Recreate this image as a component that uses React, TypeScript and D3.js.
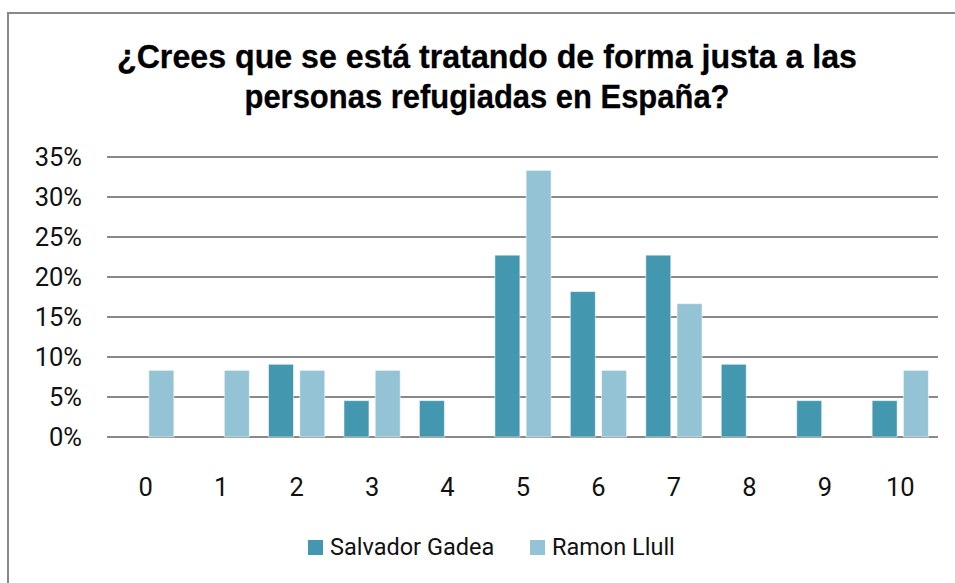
import React from "react";
import * as d3 from "d3";

const categories = ["0", "1", "2", "3", "4", "5", "6", "7", "8", "9", "10"];
const seriesNames = ["Salvador Gadea", "Ramon Llull"];
const salvadorGadea = [0, 0, 0.0909, 0.0455, 0.0455, 0.2273, 0.1818, 0.2273, 0.0909, 0.0455, 0.0455];
const ramonLlull = [0.0833, 0.0833, 0.0833, 0.0833, 0, 0.3333, 0.0833, 0.1667, 0, 0, 0.0833];
const yTicks = [0, 0.05, 0.1, 0.15, 0.2, 0.25, 0.3, 0.35];
const titleLines = ["¿Crees que se está tratando de forma justa a las", "personas refugiadas en España?"];
const titleWidths = [740, 485];
const colors = ["#4398B0", "#93C3D5"];

const W = 955;
const H = 583;

export default function App() {
  const x = d3.scaleBand<string>().domain(categories).range([108, 938]).paddingInner(0).paddingOuter(0);
  const xs = d3
    .scaleBand<string>()
    .domain(seriesNames)
    .range([0, x.bandwidth()])
    .paddingInner(0.2)
    .paddingOuter(0.307);
  const y = d3.scaleLinear().domain([0, 0.35]).range([437, 157]);
  const fmt = d3.format(".0%");
  const data = [salvadorGadea, ramonLlull];
  const tickFont = "Roboto, 'Liberation Sans', Arial, sans-serif";

  return (
    <svg
      width={W}
      height={H}
      style={{ position: "absolute", left: 0, top: 0, background: "#fff" }}
    >
      <rect x={0} y={0} width={W} height={H} fill="#fff" />
      <path d={`M8,${H + 5} L8,13 L${W + 5},13`} fill="none" stroke="#888" strokeWidth={2} />

      {titleLines.map((t, i) => (
        <text
          key={i}
          x={487}
          y={68 + i * 40}
          textAnchor="middle"
          textLength={titleWidths[i]}
          lengthAdjust="spacingAndGlyphs"
          fontFamily="'Liberation Sans', Arial, sans-serif"
          fontWeight="bold"
          fontSize={33}
          fill="#000"
          stroke="#000"
          strokeWidth={0.3}
        >
          {t}
        </text>
      ))}

      {yTicks.map((t) => (
        <g key={t}>
          <line x1={107} x2={938} y1={y(t)} y2={y(t)} stroke="#898989" strokeWidth={2} />
          <text
            x={82}
            y={y(t)}
            dy="0.35em"
            textAnchor="end"
            fontFamily={tickFont}
            fontSize={25.5}
            fill="#111"
          >
            {fmt(t)}
          </text>
        </g>
      ))}

      {data.map((vals, si) =>
        vals.map((v, ci) =>
          v > 0 ? (
            <rect
              key={`${si}-${ci}`}
              x={(x(categories[ci]) as number) + (xs(seriesNames[si]) as number)}
              y={y(v)}
              width={xs.bandwidth()}
              height={y(0) - y(v)}
              fill={colors[si]}
              stroke="rgba(255,255,255,0.55)"
              strokeWidth={1}
            />
          ) : null
        )
      )}

      {categories.map((c) => (
        <text
          key={c}
          x={(x(c) as number) + x.bandwidth() / 2}
          y={496}
          textAnchor="middle"
          fontFamily={tickFont}
          fontSize={25.5}
          fill="#111"
        >
          {c}
        </text>
      ))}

      {seriesNames.map((s, i) => {
        const lx = [308, 530][i];
        return (
          <g key={s}>
            <rect x={lx} y={540} width={15} height={15} fill={colors[i]} />
            <text x={lx + 22} y={555} fontFamily={tickFont} fontSize={23.5} fill="#111">
              {s}
            </text>
          </g>
        );
      })}
    </svg>
  );
}
